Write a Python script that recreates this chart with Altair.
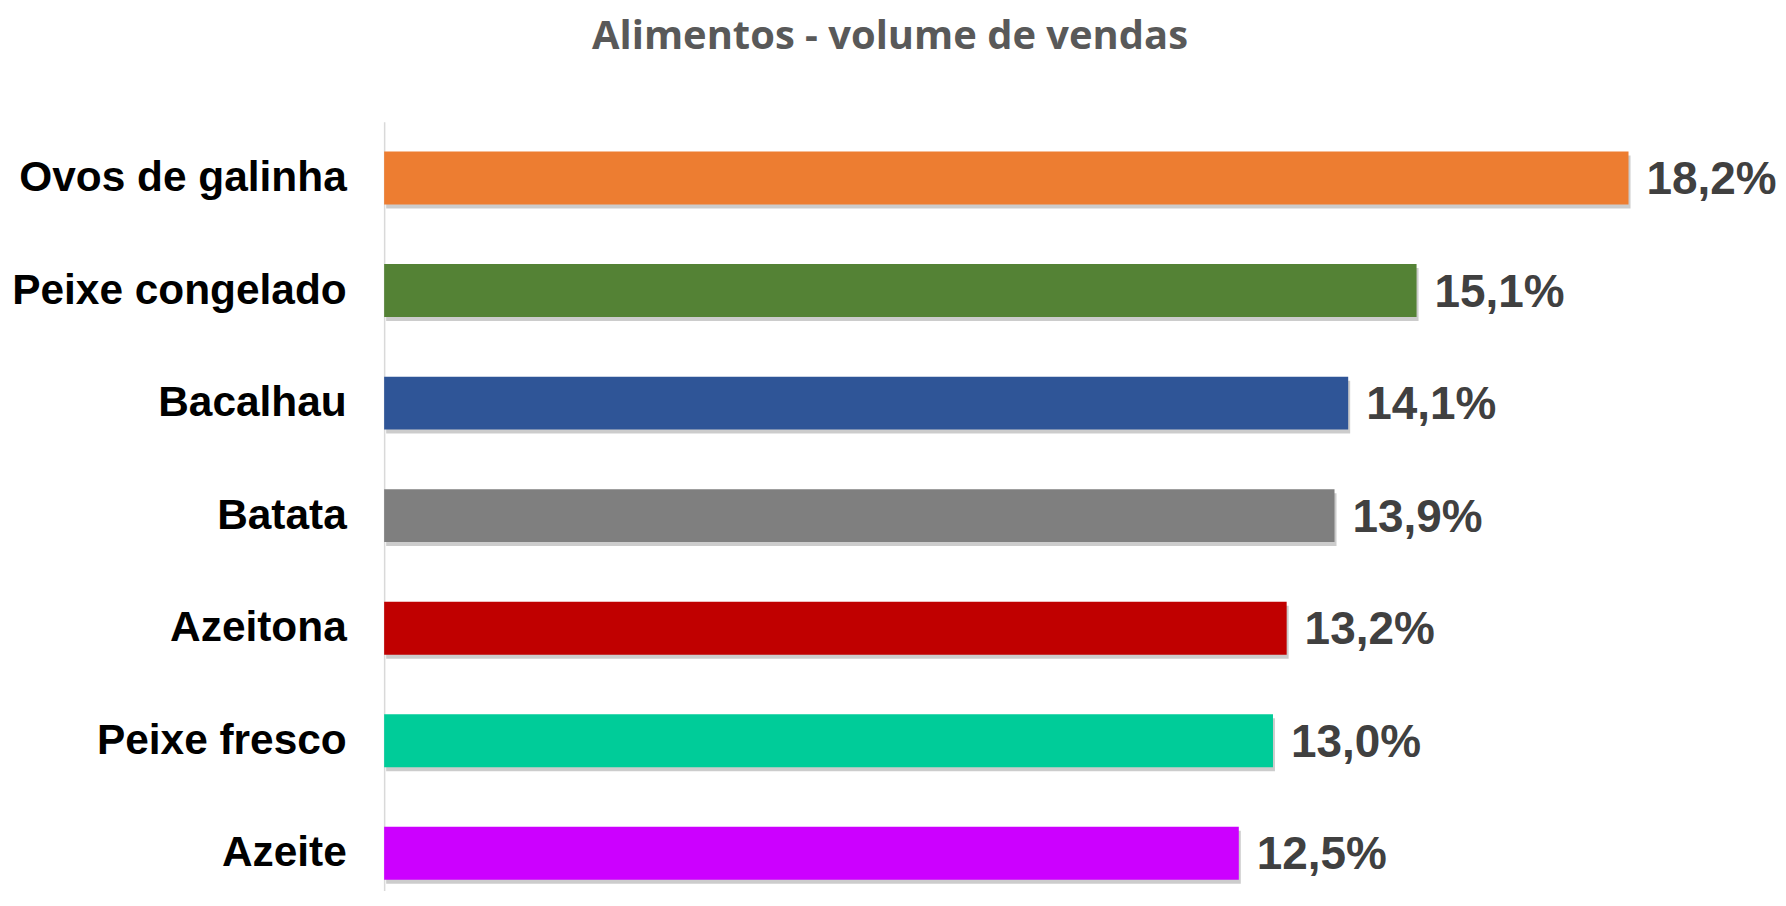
import altair as alt
import pandas as pd

categories = ["Ovos de galinha", "Peixe congelado", "Bacalhau", "Batata",
              "Azeitona", "Peixe fresco", "Azeite"]
values = [18.2, 15.1, 14.1, 13.9, 13.2, 13.0, 12.5]
colors = ["#ED7D31", "#548235", "#2F5597", "#7F7F7F", "#C00000", "#00CC99", "#CC00FF"]
labels = [f"{v:.1f}".replace(".", ",") + "%" for v in values]

df = pd.DataFrame({"cat": categories, "val": values, "label": labels})

STEP = 112.8
W = 1302
H = 770

y_enc = alt.Y(
    "cat:N", sort=categories, title=None,
    scale=alt.Scale(paddingInner=0.53, paddingOuter=0.265, range=[0, 7 * STEP]),
    axis=alt.Axis(
        domain=True, domainColor="#D9D9D9", domainWidth=1.5,
        ticks=False, tickSize=0, grid=False,
        labelFont="Liberation Sans", labelFontWeight="bold", labelFontSize=42.5,
        labelColor="#000000", labelPadding=38, labelLimit=600,
    ),
)
x_enc = alt.X("val:Q", scale=alt.Scale(domain=[0, 19], nice=False, zero=True), axis=None)

base = alt.Chart(df)

shadow = base.mark_bar(color="#000000", opacity=0.2, yOffset=4, xOffset=2).encode(
    x=x_enc, y=y_enc
)
bars = base.mark_bar().encode(
    x=x_enc, y=y_enc,
    color=alt.Color("cat:N", scale=alt.Scale(domain=categories, range=colors), legend=None),
)
text = base.mark_text(
    align="left", baseline="middle", dx=18, dy=2,
    font="Liberation Sans", fontWeight="bold", fontSize=46, color="#404040",
).encode(x=x_enc, y=y_enc, text="label:N")

chart = (shadow + bars + text).properties(
    width=W, height=H,
    background="white",
    title=alt.Title(
        "Alimentos - volume de vendas",
        font="Open Sans", fontSize=40, fontWeight="bold", color="#595959",
        anchor="middle", dx=-144, offset=33, baseline="alphabetic",
    ),
    autosize=alt.AutoSizeParams(type="none"),
    padding={"left": 377, "top": 113, "right": 95, "bottom": 0},
).configure_view(strokeWidth=0, stroke=None)

chart.save("out.html", embed_options={"renderer": "svg", "actions": False})
